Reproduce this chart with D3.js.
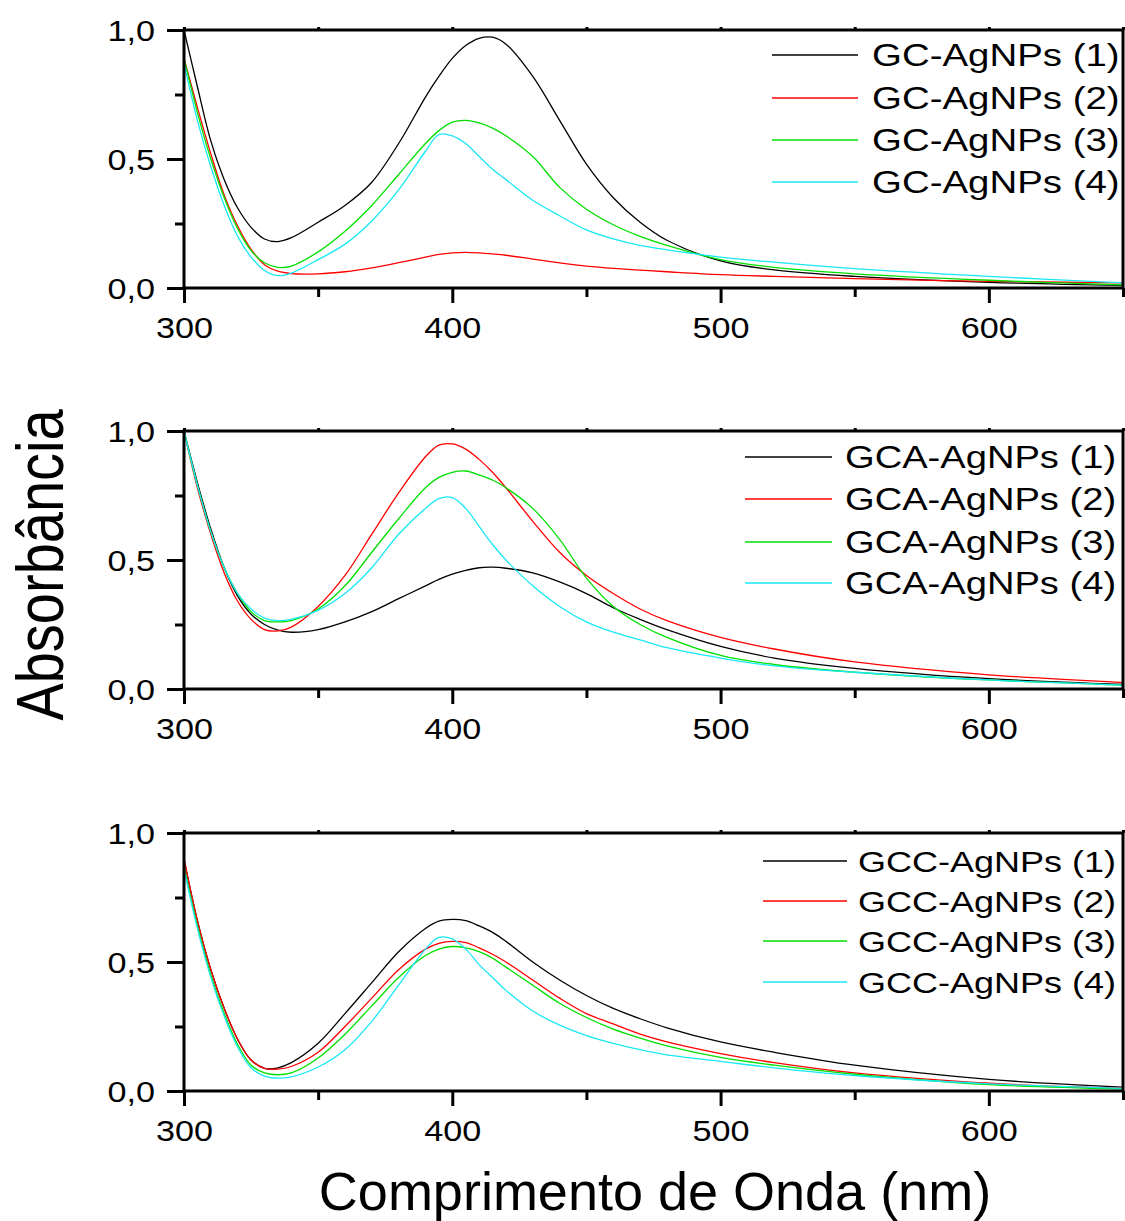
<!DOCTYPE html>
<html>
<head>
<meta charset="utf-8">
<script src="https://cdn.jsdelivr.net/npm/d3@7"></script>
<style>
body { margin: 0; background: #fff; }
svg text { font-family: "Liberation Sans", Arial, sans-serif; fill: #000; }
</style>
</head>
<body>
<div id="chart"></div>
<script>
// wavelength grid (nm) shared by all spectra
var wavelength = [300, 305, 310, 315, 320, 325, 330, 335, 340, 350, 360, 370, 380, 390, 395, 400, 405, 410, 415, 420, 430, 440, 450, 460, 470, 480, 500, 520, 550, 600, 650];

var xMajor = [300, 400, 500, 600];
var xMinor = [350, 450, 550, 650];
var yMajor = [0, 0.5, 1.0];
var yMinor = [0.25, 0.75];

var gcLabels  = ["GC-AgNPs (1)", "GC-AgNPs (2)", "GC-AgNPs (3)", "GC-AgNPs (4)"];
var gcaLabels = ["GCA-AgNPs (1)", "GCA-AgNPs (2)", "GCA-AgNPs (3)", "GCA-AgNPs (4)"];
var gccLabels = ["GCC-AgNPs (1)", "GCC-AgNPs (2)", "GCC-AgNPs (3)", "GCC-AgNPs (4)"];

// top panel - GC
var gc1 = [1.0, 0.78, 0.57, 0.42, 0.31, 0.235, 0.19, 0.18, 0.195, 0.255, 0.32, 0.41, 0.56, 0.74, 0.82, 0.89, 0.94, 0.968, 0.972, 0.945, 0.82, 0.65, 0.48, 0.35, 0.255, 0.185, 0.105, 0.07, 0.045, 0.022, 0.01];
var gc2 = [0.89, 0.7, 0.52, 0.36, 0.24, 0.15, 0.09, 0.065, 0.056, 0.055, 0.063, 0.078, 0.098, 0.12, 0.13, 0.136, 0.138, 0.136, 0.132, 0.127, 0.112, 0.097, 0.085, 0.076, 0.069, 0.063, 0.052, 0.045, 0.036, 0.026, 0.02];
var gc3 = [0.89, 0.68, 0.5, 0.35, 0.23, 0.145, 0.098, 0.08, 0.085, 0.14, 0.22, 0.32, 0.44, 0.56, 0.61, 0.643, 0.65, 0.64, 0.62, 0.59, 0.51, 0.39, 0.305, 0.245, 0.2, 0.165, 0.11, 0.08, 0.055, 0.03, 0.012];
var gc4 = [0.87, 0.65, 0.47, 0.32, 0.2, 0.12, 0.068, 0.048, 0.058, 0.11, 0.17, 0.26, 0.38, 0.53, 0.595, 0.59, 0.56, 0.51, 0.46, 0.42, 0.34, 0.28, 0.225, 0.19, 0.165, 0.148, 0.12, 0.1, 0.075, 0.045, 0.02];

// middle panel - GCA
var gca1 = [1.0, 0.8, 0.62, 0.47, 0.36, 0.29, 0.25, 0.228, 0.22, 0.23, 0.26, 0.3, 0.35, 0.4, 0.425, 0.445, 0.46, 0.47, 0.472, 0.468, 0.45, 0.415, 0.37, 0.315, 0.27, 0.23, 0.165, 0.12, 0.08, 0.04, 0.018];
var gca2 = [1.0, 0.78, 0.6, 0.45, 0.34, 0.27, 0.23, 0.225, 0.24, 0.32, 0.44, 0.6, 0.76, 0.9, 0.945, 0.95, 0.93, 0.89, 0.84, 0.78, 0.65, 0.53, 0.44, 0.37, 0.31, 0.265, 0.2, 0.155, 0.105, 0.055, 0.025];
var gca3 = [1.0, 0.79, 0.61, 0.47, 0.37, 0.3, 0.265, 0.26, 0.265, 0.31, 0.4, 0.53, 0.66, 0.78, 0.82, 0.84, 0.845, 0.83, 0.81, 0.78, 0.7, 0.58, 0.43, 0.32, 0.25, 0.2, 0.13, 0.095, 0.065, 0.035, 0.015];
var gca4 = [1.0, 0.79, 0.61, 0.47, 0.37, 0.31, 0.275, 0.265, 0.27, 0.305, 0.37, 0.47, 0.6, 0.7, 0.738, 0.742, 0.7, 0.63, 0.56, 0.5, 0.4, 0.32, 0.26, 0.22, 0.19, 0.16, 0.12, 0.09, 0.065, 0.035, 0.015];

// bottom panel - GCC
var gcc1 = [0.9, 0.66, 0.47, 0.32, 0.2, 0.12, 0.088, 0.09, 0.11, 0.185, 0.3, 0.42, 0.54, 0.63, 0.658, 0.665, 0.66, 0.64, 0.615, 0.58, 0.5, 0.43, 0.37, 0.32, 0.28, 0.245, 0.19, 0.15, 0.1, 0.045, 0.015];
var gcc2 = [0.9, 0.66, 0.47, 0.32, 0.2, 0.12, 0.088, 0.085, 0.095, 0.15, 0.25, 0.36, 0.47, 0.55, 0.572, 0.58, 0.575, 0.555, 0.53, 0.5, 0.43, 0.36, 0.3, 0.26, 0.22, 0.19, 0.145, 0.11, 0.07, 0.03, 0.01];
var gcc3 = [0.87, 0.64, 0.45, 0.3, 0.18, 0.1, 0.07, 0.063, 0.07, 0.128, 0.22, 0.33, 0.44, 0.525, 0.55, 0.56, 0.555, 0.54, 0.515, 0.48, 0.41, 0.34, 0.285, 0.24, 0.205, 0.175, 0.13, 0.1, 0.065, 0.025, 0.008];
var gcc4 = [0.86, 0.63, 0.44, 0.29, 0.17, 0.09, 0.058, 0.05, 0.055, 0.093, 0.16, 0.27, 0.41, 0.55, 0.595, 0.59, 0.55, 0.49, 0.44, 0.39, 0.31, 0.255, 0.215, 0.185, 0.16, 0.14, 0.115, 0.09, 0.06, 0.028, 0.01];

var colors = ["#000000", "#ff0000", "#00e000", "#18e8f4"];

var svg = d3.select("#chart").append("svg")
    .attr("width", 1125)
    .attr("height", 1221);

var x = d3.scaleLinear().domain([300, 650]).range([184, 1123]);
var plotHeight = 258;

var panels = [
    { bottom: 288, series: [gc1, gc2, gc3, gc4], labels: gcLabels,
      lx1: 772, lx2: 858, tx: 872, rows: [55, 98, 140, 182], fs: 31, sx: 1.24 },
    { bottom: 689, series: [gca1, gca2, gca3, gca4], labels: gcaLabels,
      lx1: 745, lx2: 832, tx: 845, rows: [457, 499, 542, 583], fs: 31, sx: 1.23 },
    { bottom: 1091, series: [gcc1, gcc2, gcc3, gcc4], labels: gccLabels,
      lx1: 763, lx2: 847, tx: 858, rows: [861, 901, 941, 982], fs: 30, sx: 1.2 }
];

function comma(d) {
    return d.toFixed(1).replace(".", ",");
}

function DrawPanel(p) {
    var y = d3.scaleLinear().domain([0, 1]).range([p.bottom, p.bottom - plotHeight]);
    var g = svg.append("g");

    var line = d3.line()
        .x(function (d, i) { return x(wavelength[i]); })
        .y(function (d) { return y(d); })
        .curve(d3.curveCatmullRom.alpha(0.5));

    g.selectAll("path.curve")
        .data(p.series)
        .enter()
        .append("path")
        .attr("class", "curve")
        .attr("d", function (d) { return line(d); })
        .attr("fill", "none")
        .attr("stroke", function (d, i) { return colors[i]; })
        .attr("stroke-width", 1.3);

    // bottom axis
    var bMaj = g.append("g")
        .attr("transform", "translate(0," + y(0) + ")")
        .call(d3.axisBottom(x).tickValues(xMajor).tickSize(15).tickSizeOuter(0).tickFormat(d3.format("d")));
    bMaj.selectAll("text").attr("y", 29).attr("dy", "0.71em")
        .attr("font-size", 30).attr("transform", "scale(1.14,1)");
    g.append("g")
        .attr("transform", "translate(0," + y(0) + ")")
        .call(d3.axisBottom(x).tickValues(xMinor).tickSize(9).tickSizeOuter(0).tickFormat(""));

    // top axis, tiny ticks
    g.append("g")
        .attr("transform", "translate(0," + y(1) + ")")
        .call(d3.axisTop(x).tickValues(xMajor.concat(xMinor)).tickSize(3).tickSizeOuter(0).tickFormat(""));

    // left axis
    var lMaj = g.append("g")
        .attr("transform", "translate(" + x(300) + ",0)")
        .call(d3.axisLeft(y).tickValues(yMajor).tickSize(17).tickSizeOuter(0).tickFormat(comma));
    lMaj.selectAll("text").attr("x", -29 / 1.14).attr("dy", "0.36em")
        .attr("font-size", 30).attr("transform", "scale(1.14,1)");
    g.append("g")
        .attr("transform", "translate(" + x(300) + ",0)")
        .call(d3.axisLeft(y).tickValues(yMinor).tickSize(9).tickSizeOuter(0).tickFormat(""));

    g.selectAll(".domain").remove();
    g.selectAll(".tick line").attr("stroke", "#000").attr("stroke-width", 3);

    // frame
    g.append("rect")
        .attr("x", x(300))
        .attr("y", y(1))
        .attr("width", x(650) - x(300))
        .attr("height", y(0) - y(1))
        .attr("fill", "none")
        .attr("stroke", "#000")
        .attr("stroke-width", 3);

    // legend
    var leg = g.selectAll("g.leg")
        .data(p.labels)
        .enter()
        .append("g")
        .attr("class", "leg");
    leg.append("line")
        .attr("x1", p.lx1)
        .attr("x2", p.lx2)
        .attr("y1", function (d, i) { return p.rows[i]; })
        .attr("y2", function (d, i) { return p.rows[i]; })
        .attr("stroke", function (d, i) { return colors[i]; })
        .attr("stroke-width", 1.3);
    leg.append("text")
        .attr("transform", function (d, i) {
            return "translate(" + p.tx + "," + (p.rows[i] + 11) + ") scale(" + p.sx + ",1)";
        })
        .attr("font-size", p.fs)
        .text(function (d) { return d; });
}

panels.forEach(DrawPanel);

// axis titles
svg.append("text")
    .attr("transform", "translate(63,565) scale(1.2,1) rotate(-90)")
    .attr("text-anchor", "middle")
    .attr("font-size", 56)
    .text("Absorbância");

svg.append("text")
    .attr("x", 655)
    .attr("y", 1210)
    .attr("text-anchor", "middle")
    .attr("font-size", 54)
    .text("Comprimento de Onda (nm)");
</script>
</body>
</html>
